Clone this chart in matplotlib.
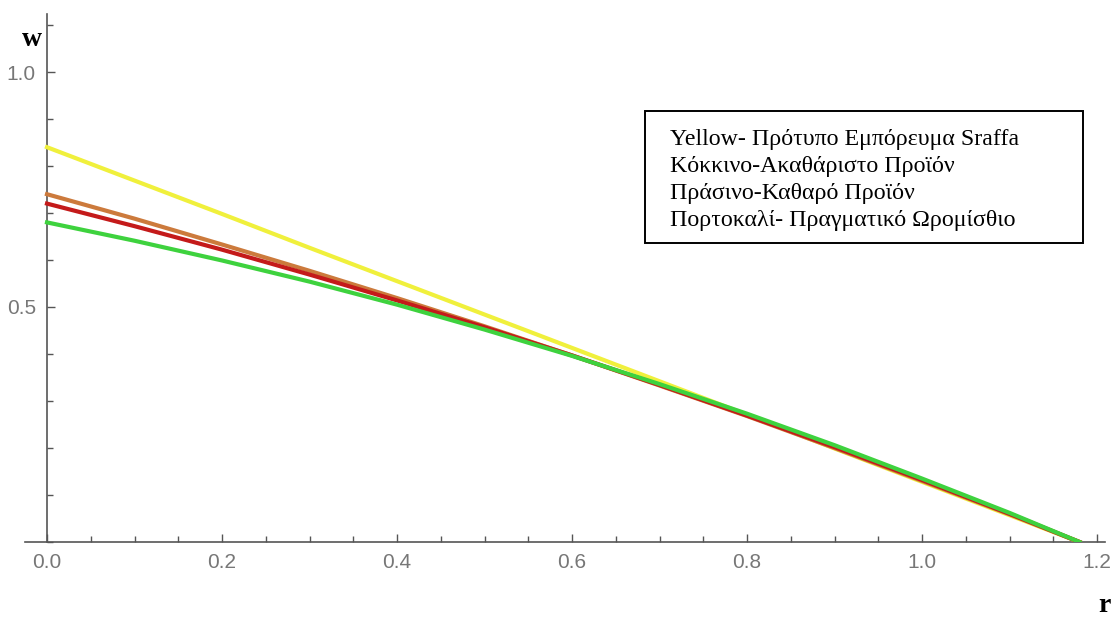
import matplotlib
matplotlib.use("Agg")
import matplotlib.pyplot as plt
from matplotlib.patches import Rectangle
from matplotlib.ticker import MultipleLocator, FormatStrFormatter

# profit rate r and wage w for each numeraire
r = [0.0, 0.1, 0.2, 0.3, 0.4, 0.5, 0.6, 0.7, 0.8, 0.9, 1.0, 1.1, 1.18]
w_yellow = [0.840, 0.769, 0.698, 0.626, 0.555, 0.484, 0.413, 0.342, 0.271, 0.199, 0.128, 0.057, 0.0]
w_orange = [0.740, 0.688, 0.633, 0.577, 0.519, 0.459, 0.397, 0.333, 0.268, 0.200, 0.130, 0.059, 0.0]
w_red = [0.720, 0.672, 0.622, 0.569, 0.514, 0.457, 0.397, 0.334, 0.269, 0.202, 0.132, 0.060, 0.0]
w_green = [0.680, 0.641, 0.599, 0.554, 0.505, 0.452, 0.396, 0.336, 0.273, 0.206, 0.135, 0.062, 0.0]

legend_lines = ["Yellow- Πρότυπο Εμπόρευμα Sraffa",
                "Κόκκινο-Ακαθάριστο Προϊόν",
                "Πράσινο-Καθαρό Προϊόν",
                "Πορτοκαλί- Πραγματικό Ωρομίσθιο"]

W, H = 1113, 617
fig = plt.figure(figsize=(W / 100, H / 100), dpi=100)
ax = fig.add_axes([25 / W, 75 / H, 1080 / W, 528 / H])

lw = 3.0
ax.plot(r, w_yellow, color="#f0f03c", lw=lw, zorder=3)
ax.plot(r, w_orange, color="#cc7a3c", lw=lw, zorder=4)
ax.plot(r, w_red, color="#c41a1a", lw=lw, zorder=5)
ax.plot(r, w_green, color="#3ed23e", lw=lw, zorder=6)

ax.set_xlim(-22 / 875, 1058 / 875)
ax.set_ylim(0, 528 / 470)

# mathematica-like axes crossing at the origin
for s in ["top", "right"]:
    ax.spines[s].set_visible(False)
ax.spines["left"].set_position(("data", 0))
for s in ["left", "bottom"]:
    ax.spines[s].set_color("#555555")
    ax.spines[s].set_linewidth(1.2)

ax.xaxis.set_major_locator(MultipleLocator(0.2))
ax.xaxis.set_minor_locator(MultipleLocator(0.05))
ax.yaxis.set_major_locator(MultipleLocator(0.5))
ax.yaxis.set_minor_locator(MultipleLocator(0.1))
ax.xaxis.set_major_formatter(FormatStrFormatter("%.1f"))
ax.yaxis.set_major_formatter(FormatStrFormatter("%.1f"))
ax.set_yticks([0.5, 1.0])

ax.tick_params(which="both", direction="in", color="#555555", width=1.0,
               labelcolor="#777777", labelsize=15)
ax.tick_params(which="major", length=6)
ax.tick_params(which="minor", length=4)
ax.tick_params(axis="x", which="major", pad=8)
ax.tick_params(axis="y", which="major", pad=8)
for lab in ax.get_xticklabels() + ax.get_yticklabels():
    lab.set_family("Liberation Sans")

# axis names
fig.text(32 / W, 1 - 39 / H, "w", family="Liberation Serif", weight="bold",
         fontsize=20, ha="center", va="center")
fig.text(1104 / W, 1 - 606 / H, "r", family="Liberation Serif", weight="bold",
         fontsize=20, ha="center", va="center")

# legend box drawn as a framed text block
fig.patches.append(Rectangle((645 / W, 1 - 243 / H), (1083 - 645) / W, (243 - 111) / H,
                             transform=fig.transFigure, fill=False,
                             edgecolor="black", lw=1.4, zorder=10))
for i, txt in enumerate(legend_lines):
    fig.text(670 / W, 1 - (145 + 27 * i) / H, txt, family="Liberation Serif",
             fontsize=17.2, ha="left", va="baseline", color="black")

fig.savefig("out.png", dpi=100)
